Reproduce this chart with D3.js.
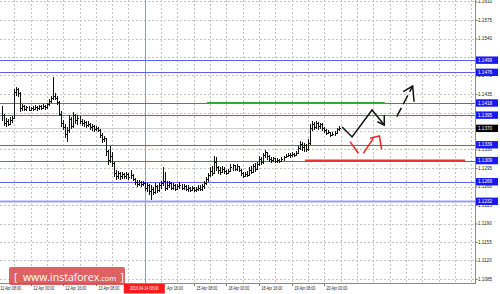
<!DOCTYPE html>
<html>
<head>
<meta charset="utf-8">
<script src="https://cdn.jsdelivr.net/npm/d3@7"></script>
<style>
body { margin: 0; background: #fff; }
svg { display: block; font-family: "Liberation Sans", Arial, sans-serif; }
</style>
</head>
<body>
<div id="chart"></div>
<script>
// EURUSD H1 bars from 11 Apr 10:00, prices in pips above 1.1000
const firstOpen = 400;
const barHigh = [412,398,390,388,392,394,444,448,447,438, 416,414,413,412,411,412,414,413,415,414,
  416,415,418,426,431,467,436,432,422,402, 386,378,372,395,392,401,398,396,393,387,
  386,384,383,380,378,377,374,373,368,362, 356,352,330,336,325,306,292,290,288,288,
  286,287,285,292,284,276,272,273,271,270, 268,266,264,262,260,266,263,266,270,296,
  288,270,270,268,266,264,264,268,264,265, 262,262,260,261,259,260,263,262,264,270,
  278,286,296,298,317,315,298,296,298,296, 292,294,302,302,301,302,299,294,288,288,
  290,296,298,302,304,307,318,316,324,330, 325,320,315,315,314,314,312,315,318,322,
  324,323,325,324,327,336,346,344,342,340, 349,378,384,382,384,382,381,380,372,369,
  367,364,363,365,370,374];
const barLow = [385,376,374,375,377,382,388,432,430,402, 404,403,404,403,404,404,405,404,406,405,
  407,406,408,414,419,424,424,416,395,374, 368,352,346,362,370,372,380,378,380,376,
  374,372,374,368,366,365,366,364,352,344, 345,318,302,306,298,278,274,276,274,276,
  275,276,273,276,271,264,260,262,260,261, 252,250,244,235,244,246,248,250,256,262,
  252,254,258,255,254,252,254,256,254,255, 252,250,251,252,250,251,253,252,253,256,
  264,270,278,280,284,290,285,283,286,284, 283,284,288,290,290,291,288,280,277,278,
  279,282,284,286,289,292,300,302,304,314, 312,307,306,307,306,306,306,307,310,314,
  316,315,317,316,318,322,330,328,326,326, 328,340,366,368,370,368,370,366,362,359,
  360,355,356,357,362,366];
const barClose = [395,380,384,378,386,390,438,445,436,408, 412,406,410,405,409,407,411,408,412,409,
  413,410,416,422,428,432,428,420,398,380, 372,360,366,388,374,395,385,390,384,380,
  382,377,379,372,375,369,371,366,358,350, 352,328,310,318,305,286,280,285,279,284,
  280,283,278,282,274,268,265,269,264,266, 258,262,252,256,250,260,254,262,266,270,
  258,262,266,258,262,256,260,262,257,261, 256,258,254,257,253,256,258,255,260,266,
  274,282,290,286,306,296,292,288,294,289, 286,290,296,300,294,298,292,285,280,284,
  282,292,288,298,294,302,312,306,320,326, 318,312,310,313,309,311,308,312,316,318,
  320,319,322,320,324,332,340,334,338,330, 342,370,378,372,380,374,378,370,366,362,
  364,358,360,362,368,370];

const priceTicks = [1.1610, 1.1575, 1.1540, 1.1505, 1.1470, 1.1435, 1.1400, 1.1365,
  1.1330, 1.1295, 1.1260, 1.1225, 1.1190, 1.1155, 1.1120, 1.1085];
// grid labels that sit under a level label in the reference
const hiddenPriceTicks = [1.1505, 1.1400, 1.1365];
const timeTickBars = [-2, 14, 30, 46, 62, 78, 94, 110, 126, 142, 158];
const timeTickLabels = ["11 Apr 08:00", "12 Apr 00:00", "12 Apr 16:00", "13 Apr 08:00",
  "", "Apr 16:00", "15 Apr 08:00", "18 Apr 00:00", "18 Apr 16:00",
  "19 Apr 08:00", "20 Apr 00:00"];
const markerBar = 70;
const markerLabel = "2016.04.14 08:00";

const levels = [1.1499, 1.1476, 1.1418, 1.1395, 1.1339, 1.1309, 1.1269, 1.1232];
const bidPrice = 1.1370;
const greenLevel = {price: 1.1418, from: 100.5, to: 187.7};
const redLevel = {price: 1.1309, from: 148.5, to: 227};

// forecast sketches, [bar, price]
const zigBlack = [[166.7, 1.13726], [171.6, 1.13537], [181.4, 1.14047], [187.4, 1.13764]];
const zigBlackHead = [[184.0, 1.13826], [187.4, 1.13764], [187.4, 1.13953]];
const redDown = [[170.6, 1.13448], [174.7, 1.13228]];
const redUp = [[177.1, 1.13228], [182.0, 1.13512]];
const redHead = [[180.4, 1.13512], [185.0, 1.13555], [186.1, 1.13304]];
const dashUp = [[193.5, 1.13921], [201.3, 1.14501]];
const dashHead = [[196.7, 1.14394], [201.3, 1.14501], [202.0, 1.14204]];

const W = 500, H = 294, plotW = 475, plotH = 283;
const pip = p => 1.1 + p / 10000;

const svg = d3.select("#chart").append("svg")
    .attr("width", W).attr("height", H);

const x = d3.scaleLinear().domain([0, 232]).range([2, 2 + 2.04 * 232]);
const y = d3.scaleLinear().domain([1.1085, 1.1435]).range([279, 94]);

svg.append("defs").append("clipPath").attr("id", "plot")
    .append("rect").attr("width", plotW).attr("height", plotH);

const g = svg.append("g").attr("clip-path", "url(#plot)");

// grid
g.append("g").selectAll("line").data(priceTicks).join("line")
    .attr("x1", 0).attr("x2", plotW)
    .attr("y1", d => Math.round(y(d)) + 0.5).attr("y2", d => Math.round(y(d)) + 0.5)
    .attr("stroke", "#c4c4c4").attr("stroke-dasharray", "2,2");
g.append("g").selectAll("line").data(d3.range(-2, 232, 8)).join("line")
    .attr("x1", d => Math.round(x(d)) + 0.5).attr("x2", d => Math.round(x(d)) + 0.5)
    .attr("y1", 0).attr("y2", plotH)
    .attr("stroke", "#c4c4c4").attr("stroke-dasharray", "2,2");

// bid line
g.append("line").attr("x1", 0).attr("x2", plotW)
    .attr("y1", Math.round(y(bidPrice)) + 0.5).attr("y2", Math.round(y(bidPrice)) + 0.5)
    .attr("stroke", "#cfcfcf");

// period marker
g.append("line")
    .attr("x1", Math.round(x(markerBar)) + 0.5).attr("x2", Math.round(x(markerBar)) + 0.5)
    .attr("y1", 0).attr("y2", plotH).attr("stroke", "#ee7777");

// blue levels
g.append("g").selectAll("line").data(levels).join("line")
    .attr("x1", 0).attr("x2", plotW)
    .attr("y1", d => Math.round(y(d)) + 0.5).attr("y2", d => Math.round(y(d)) + 0.5)
    .attr("stroke", (d, i) => i === levels.length - 1 ? "#9d9df2" : "#5f5ff0")
    .attr("stroke-width", (d, i) => i === levels.length - 1 ? 2 : 1);

// green and red levels
[[greenLevel, "#33a833"], [redLevel, "#e83333"]].forEach(([l, c]) => {
  g.append("line").attr("x1", x(l.from)).attr("x2", x(l.to))
      .attr("y1", y(l.price)).attr("y2", y(l.price))
      .attr("stroke", c).attr("stroke-width", 2);
});

// bars
const bars = g.append("g").attr("stroke", "#111").attr("shape-rendering", "crispEdges");
barClose.forEach((c, i) => {
  const open = i === 0 ? firstOpen : barClose[i - 1];
  const bx = Math.round(x(i)) + 0.5;
  bars.append("line").attr("x1", bx).attr("x2", bx)
      .attr("y1", y(pip(barHigh[i]))).attr("y2", y(pip(barLow[i])) + 0.5);
  bars.append("line").attr("x1", bx - 1).attr("x2", bx)
      .attr("y1", Math.round(y(pip(open))) + 0.5).attr("y2", Math.round(y(pip(open))) + 0.5);
  bars.append("line").attr("x1", bx).attr("x2", bx + 1)
      .attr("y1", Math.round(y(pip(c))) + 0.5).attr("y2", Math.round(y(pip(c))) + 0.5);
});

// forecast sketches
const line = d3.line().x(d => x(d[0])).y(d => y(d[1]));
const sketch = (pts, color, dash) => g.append("path").attr("d", line(pts))
    .attr("fill", "none").attr("stroke", color).attr("stroke-width", 1.5)
    .attr("stroke-dasharray", dash || null);
sketch(zigBlack, "#111");
sketch(zigBlackHead, "#111");
sketch(redDown, "#ee2222");
sketch(redUp, "#ee2222");
sketch(redHead, "#ee2222");
sketch(dashUp, "#111", "10,4");
sketch(dashHead, "#111");

// axes frame
svg.append("line").attr("x1", plotW + 0.5).attr("x2", plotW + 0.5)
    .attr("y1", 0).attr("y2", plotH + 1).attr("stroke", "#8a8a8a");
svg.append("line").attr("x1", 0).attr("x2", plotW + 1)
    .attr("y1", plotH + 0.5).attr("y2", plotH + 0.5).attr("stroke", "#8a8a8a");

// price axis
const yAxis = svg.append("g").attr("transform", `translate(${plotW + 0.5},0)`)
    .call(d3.axisRight(y).tickValues(priceTicks).tickSize(2)
      .tickFormat(d => hiddenPriceTicks.includes(d) ? "" : d3.format(".4f")(d)));
yAxis.select(".domain").remove();
yAxis.selectAll("line").attr("stroke", "#777");
yAxis.selectAll("text").attr("x", 2.5).attr("font-size", 4.6).attr("fill", "#222")
    .attr("font-family", "Liberation Sans, Arial, sans-serif");

// level labels
const lab = svg.append("g");
[...levels.map(v => [v, "#1818f0"]), [bidPrice, "#000"]].forEach(([v, c]) => {
  const yy = y(v);
  lab.append("rect").attr("x", plotW + 1).attr("y", yy - 3.7).attr("width", 22).attr("height", 7.4)
      .attr("fill", c);
  lab.append("text").attr("x", plotW + 3).attr("y", yy).attr("dy", "0.35em")
      .attr("font-size", 4.6).attr("fill", "#fff").text(d3.format(".4f")(v));
});

// time axis
const xAxis = svg.append("g").attr("transform", `translate(0,${plotH + 0.5})`);
timeTickBars.forEach((b, i) => {
  const tx = Math.round(x(b)) + 0.5;
  xAxis.append("line").attr("x1", tx).attr("x2", tx).attr("y1", 0).attr("y2", 2.5).attr("stroke", "#777");
  const partial = timeTickLabels[i].length < 12;
  xAxis.append("text").attr("transform", `translate(${tx + (partial ? 5.5 : 2)},5.3) scale(0.8,1)`)
      .attr("dy", "0.35em").attr("font-size", 4.6).attr("fill", "#222").text(timeTickLabels[i]);
});
const mx = x(markerBar);
xAxis.append("rect").attr("x", mx - 21).attr("y", 0.5).attr("width", 41).attr("height", 9.5)
    .attr("fill", "#ff1a1a");
xAxis.append("text").attr("transform", `translate(${mx - 0.5},5.3) scale(0.8,1)`)
    .attr("dy", "0.35em").attr("text-anchor", "middle")
    .attr("font-size", 4.6).attr("fill", "#fff").text(markerLabel);

// watermark
const wm = svg.append("g");
wm.append("rect").attr("x", 9).attr("y", 267).attr("width", 116).attr("height", 18).attr("rx", 2)
    .attr("fill", "#d94646").attr("opacity", 0.85);
const wt = wm.append("text").attr("x", 14).attr("y", 280.5).attr("fill", "#fff")
    .attr("font-family", "Open Sans, sans-serif");
wt.append("tspan").attr("font-size", 10).text("[ ");
wt.append("tspan").attr("font-size", 10.5).attr("dx", 3).text("www.instaforex");
wt.append("tspan").attr("font-size", 7.5).text(".com");
wt.append("tspan").attr("font-size", 10).attr("dx", 1.5).text(" ]");
</script>
</body>
</html>
